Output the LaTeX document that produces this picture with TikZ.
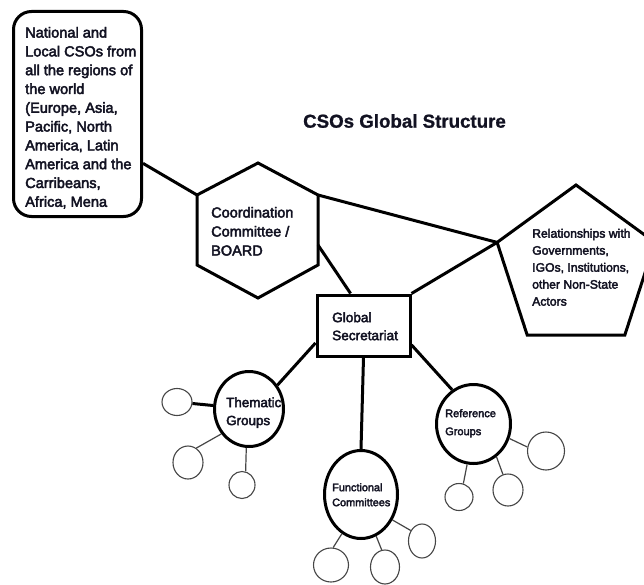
\documentclass[tikz,border=0pt]{standalone}
\usepackage{fontspec}
\setmainfont{Liberation Sans}[RawFeature={embolden=3}]
\newfontfamily\titlefont{Liberation Sans}[RawFeature={embolden=1}]
\usetikzlibrary{shapes.geometric}
\definecolor{ink}{RGB}{18,18,34}
\definecolor{thinline}{RGB}{70,70,70}
\begin{document}
\begin{tikzpicture}[x=1pt,y=-1pt,
  heavy/.style={line width=3pt,draw=black},
  thinc/.style={ellipse,draw=thinline,line width=1.1pt,inner sep=0pt},
  bigc/.style={ellipse,draw=black,line width=3pt,inner sep=0pt},
  thinlink/.style={draw=thinline,line width=1.2pt},
  label/.style={inner sep=0pt,anchor=north west,align=left,text=ink},
]
\fill[white] (0,0) rectangle (644,585);
\useasboundingbox (0,0) rectangle (644,585);
\clip (0,0) rectangle (644,585);

% title
\node[inner sep=0pt,anchor=base,text=ink,font={\titlefont\bfseries\fontsize{18.7}{22}\selectfont}]
  (title) at (404.5,127.7) {CSOs Global Structure};

% national and local CSOs box
\node[heavy,rounded corners=18pt,minimum width=128pt,minimum height=205pt,inner sep=0pt]
  (csos) at (77.5,114) {};
\node[label,font={\fontsize{14.6}{18.8}\selectfont}] (csostext) at (25,26.8)
  {National and\\Local CSOs from\\all the regions of\\the world\\(Europe, Asia,\\Pacific, North\\America, Latin\\America and the\\Carribeans,\\Africa, Mena};

% coordination committee hexagon
\coordinate (hexN)  at (258,163);
\coordinate (hexNE) at (318,195);
\coordinate (hexSE) at (318,265);
\coordinate (hexS)  at (258,298);
\coordinate (hexSW) at (197,265);
\coordinate (hexNW) at (197,195);
\coordinate (hexE)  at (318,245);
\draw[heavy] (hexN) -- (hexNE) -- (hexSE) -- (hexS) -- (hexSW) -- (hexNW) -- cycle;
\node[label,font={\fontsize{14.5}{19}\selectfont}] (hextext) at (211,206.8)
  {Coordination\\Committee /\\BOARD};

% relationships pentagon
\coordinate (pentN)  at (576,185);
\coordinate (pentW)  at (497.1,242.4);
\coordinate (pentSW) at (527.2,335.1);
\coordinate (pentSE) at (624.8,335.1);
\coordinate (pentE)  at (654.9,242.4);
\draw[heavy] (pentN) -- (pentE) -- (pentSE) -- (pentSW) -- (pentW) -- cycle;
\node[label,font={\fontsize{12.2}{17}\selectfont}] (penttext) at (532,228.6)
  {Relationships with\\Governments,\\IGOs, Institutions,\\other Non-State\\Actors};

% global secretariat
\node[heavy,minimum width=93pt,minimum height=61pt,inner sep=0pt] (sec) at (363.5,325.5) {};
\node[label,font={\fontsize{13.6}{18}\selectfont}] (sectext) at (332,312.1)
  {Global\\Secretariat};

% group circles
\node[bigc,minimum width=69pt,minimum height=75pt] (them) at (249,409) {};
\node[label,font={\fontsize{13.4}{18}\selectfont}] (themtext) at (226,397.2)
  {Thematic\\Groups};
\node[bigc,minimum width=73pt,minimum height=88pt] (func) at (361,494.5) {};
\node[label,font={\fontsize{10.9}{15}\selectfont}] (functext) at (332,483.1)
  {Functional\\Committees};
\node[bigc,minimum width=74pt,minimum height=79pt] (ref) at (473.5,424) {};
\node[label,font={\fontsize{11}{18}\selectfont}] (reftext) at (445,409)
  {Reference\\Groups};

% small sub-group circles
\node[thinc,minimum width=30pt,minimum height=27pt] (t1) at (177,402) {};
\node[thinc,minimum width=30pt,minimum height=33pt] (t2) at (188,462.5) {};
\node[thinc,minimum width=26pt,minimum height=27pt] (t3) at (242,485) {};
\node[thinc,minimum width=35pt,minimum height=34pt] (f1) at (331,565) {};
\node[thinc,minimum width=29pt,minimum height=34pt] (f2) at (385,567) {};
\node[thinc,minimum width=27pt,minimum height=34pt] (f3) at (422,541) {};
\node[thinc,minimum width=28pt,minimum height=27pt] (r1) at (459,497) {};
\node[thinc,minimum width=30pt,minimum height=32pt] (r2) at (508,490) {};
\node[thinc,minimum width=37pt,minimum height=38pt] (r3) at (546,451) {};

% main connectors
\draw[heavy] (csos.323) -- (hexNW);
\draw[heavy] (hexNE) -- (pentW);
\draw[heavy] (hexE) -- (sec.112);
\draw[heavy] (sec.north east) -- (pentW);
\draw[heavy] (sec.200) -- (them.40);
\draw[heavy] (sec.south) -- (func.north);
\draw[heavy] (sec.338) -- (ref.122);

% sub-group connectors
\draw[heavy] (them) -- (t1);
\draw[thinlink] (them.222) -- (t2.60);
\draw[thinlink] (them.266) -- (t3.75);
\draw[thinlink] (func.244) -- (f1.83);
\draw[thinlink] (func.290) -- (f2.101);
\draw[thinlink] (func.321) -- (f3.137);
\draw[thinlink] (ref.261) -- (r1.72);
\draw[thinlink] (ref.305) -- (r2.108);
\draw[thinlink] (ref.338) -- (r3.168);
\end{tikzpicture}
\end{document}
